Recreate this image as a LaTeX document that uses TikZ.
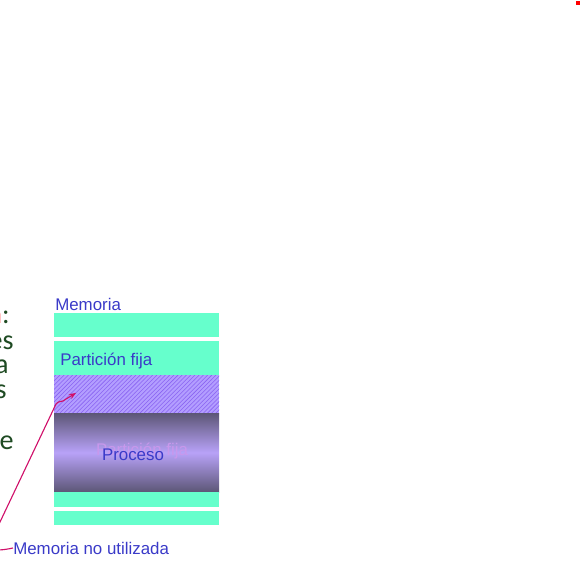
\documentclass[tikz,border=0pt]{standalone}
\usepackage{fontspec}
\setmainfont{Liberation Sans}
\newfontfamily\slidefont{Carlito}
\usetikzlibrary{patterns,arrows.meta}
\definecolor{membar}{HTML}{66FFCC}
\definecolor{memtext}{HTML}{3A3AC8}
\definecolor{hatchbg}{HTML}{B39EFF}
\definecolor{hatchln}{HTML}{8A63F2}
\definecolor{procdark}{HTML}{5C5676}
\definecolor{proclight}{HTML}{B8A2F8}
\definecolor{procghost}{HTML}{C898EC}
\definecolor{pointer}{HTML}{D0106A}
\definecolor{slidegreen}{HTML}{1E4A22}
\tikzset{membox/.style={rectangle,inner sep=0,outer sep=0,minimum width=4.125cm,anchor=north west},
    greenbar/.style={membox,fill=membar},
    hatchbox/.style={membox,preaction={fill=hatchbg},pattern=north east lines,pattern color=hatchln},
    procbox/.style={membox,top color=procdark,bottom color=procdark,middle color=proclight},
    memlabel/.style={font=\fontsize{12}{14}\selectfont,text=memtext,inner sep=0},
    slidetext/.style={font=\slidefont\fontsize{20}{24}\selectfont,text=slidegreen,inner sep=0,anchor=base east},
    pointerline/.style={draw=pointer,thick,-{Stealth[length=5pt,width=4pt]}}
}
\begin{document}
\begin{tikzpicture}[x=0.025cm,y=-0.025cm]

\useasboundingbox (0,0) rectangle (582,570);
\clip (0,0) rectangle (582,570);

% cut-off slide text
\node (frag1) [slidetext] at (10,323) {{\color{red}a}:};
\node (frag2) [slidetext] at (14,349) {es};
\node (frag3) [slidetext] at (9,373) {a};
\node (frag4) [slidetext] at (7,398) {s};
\node (frag5) [slidetext] at (14,449) {e};

\fill [red] (576,1) rectangle (580,5);

% memory column
\node (memtitle) [memlabel,anchor=west] at (55,304) {Memoria};

\node (barA) [greenbar,minimum height=0.6cm] at (54,313) {};
\node (barB) [greenbar,minimum height=0.85cm] at (54,341) {};
\node (slack) [hatchbox,minimum height=0.95cm] at (54,375) {};
\node (proc) [procbox,minimum height=1.975cm] at (54,413) {};
\node (barC) [greenbar,minimum height=0.375cm] at (54,492) {};
\node (barD) [greenbar,minimum height=0.35cm] at (54,511) {};

\node (fixlabel) [memlabel,anchor=west] at (60,361) {Partición fija};
\node (ghost) [memlabel,text=procghost] at (142,451) {Partición fija};
\node (proclabel) [memlabel] at (133,455) {Proceso};

% pointer
\node (unused) [memlabel,anchor=west] at (13,548) {Memoria no utilizada};
\coordinate (slacktip) at (76,393);

\draw [pointerline] (unused.west) .. controls (-25,556) and (-10,538) .. (0,522) -- (56,404) .. controls (59,400) and (62,403) .. (66,399) -- (slacktip);

\end{tikzpicture}
\end{document}
